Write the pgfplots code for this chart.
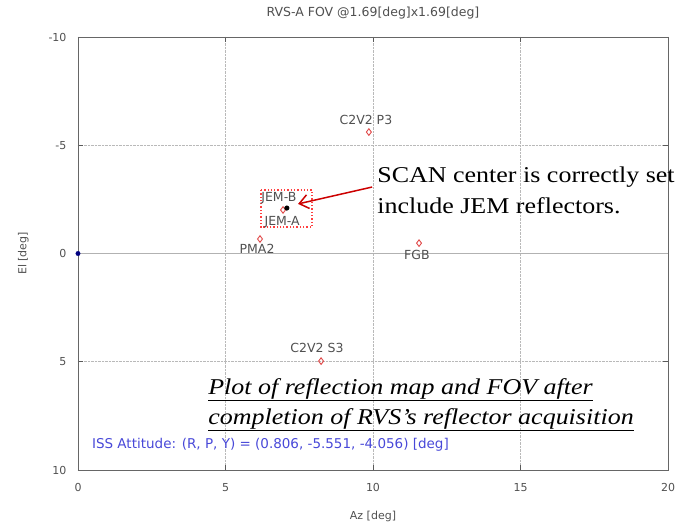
\documentclass[border=0pt]{standalone}
\usepackage{pgfplots}
\pgfplotsset{compat=1.18}
\usepackage{fontspec}
\setmainfont{Liberation Serif}
\newfontfamily\annot[FakeStretch=1.15]{Liberation Serif}
\newfontfamily\tickfont{DejaVu Sans}
\usetikzlibrary{arrows.meta}
\definecolor{ptred}{HTML}{E04848}
\definecolor{txtgray}{HTML}{505050}
\definecolor{issblue}{HTML}{4848D8}
\begin{document}
\begin{tikzpicture}[x=1pt,y=1pt]
\useasboundingbox (-78,-56) rectangle (597,470);
\begin{axis}[
  at={(0,0)}, anchor=south west,
  width=590pt, height=433pt, scale only axis,
  xmin=0, xmax=20, ymin=-10, ymax=10, y dir=reverse,
  xtick={0,5,10,15,20}, ytick={-10,-5,0,5,10},
  grid=major,
  major grid style={gray!55, densely dotted, line width=0.8pt},
  axis line style={gray!80!black, line width=0.8pt},
  tick style={gray!70!black, line width=0.8pt},
  tick align=inside,
  major tick length=5pt,
  ticklabel style={font=\tickfont\fontsize{11}{13}\selectfont, text=txtgray},
  xticklabel style={yshift=-10pt},
  yticklabel style={xshift=-8pt},
  /pgf/number format/assume math mode=true,
  xlabel={Az [deg]}, ylabel={El [deg]},
  label style={font=\tickfont\fontsize{11}{13}\selectfont, text=txtgray},
  xlabel style={yshift=-12pt},
  ylabel style={yshift=13pt},
  title={RVS-A FOV @1.69[deg]x1.69[deg]},
  title style={font=\tickfont\fontsize{12.5}{14}\selectfont, text=txtgray, yshift=8pt},
  clip=false,
]
% zero line
\addplot[gray!60, line width=1pt] coordinates {(0,0) (20,0)};
% FOV rectangle
\addplot[red!75, dotted, line width=1.3pt] coordinates {(6.2,-2.93) (7.93,-2.93) (7.93,-1.22) (6.2,-1.22) (6.2,-2.93)};
% reflectors
\addplot[only marks, mark=diamond, mark size=3.3pt, ptred, line width=0.9pt] coordinates {
 (9.86,-5.61) (6.17,-0.67) (11.56,-0.48) (8.24,4.97) (6.95,-2.01)};
% scan center
\addplot[only marks, mark=*, mark size=2.3pt, black] coordinates {(7.08,-2.1)};
% origin
\addplot[only marks, mark=*, mark size=2.2pt, blue!50!black] coordinates {(0,0)};
% labels
\begin{scope}[every node/.style={font=\tickfont\fontsize{12.5}{14}\selectfont, text=txtgray, inner sep=0pt}]
\node at (axis cs:9.76,-6.17) {C2V2 P3};
\node at (axis cs:6.81,-2.56) {JEM-B};
\node at (axis cs:6.92,-1.45) {JEM-A};
\node at (axis cs:6.07,-0.21) {PMA2};
\node at (axis cs:11.49,0.07) {FGB};
\node at (axis cs:8.10,4.37) {C2V2 S3};
\end{scope}
\node[anchor=west, inner sep=0pt, font=\tickfont\fontsize{13.5}{15}\selectfont, text=issblue] at (axis cs:0.47,8.85) {ISS Attitude: (R, P, Y) = (0.806, -5.551, -4.056) [deg]};
% annotations
\node[anchor=base west, inner sep=0pt, font=\annot\fontsize{22.6}{26}\selectfont] at (axis cs:10.14,-3.26) {SCAN center is correctly set};
\node[anchor=base west, inner sep=0pt, font=\annot\fontsize{22.6}{26}\selectfont] at (axis cs:10.14,-1.87) {include JEM reflectors.};
\draw[red!80!black, line width=1.5pt, -{Straight Barb[length=9pt, width=14pt]}] (axis cs:9.97,-3.07) -- (axis cs:7.46,-2.29);
\node[anchor=base west, inner sep=0pt, font=\annot\fontsize{22.6}{26}\selectfont\itshape] at (axis cs:4.41,6.49) {\underline{Plot of reflection map and FOV after}};
\node[anchor=base west, inner sep=0pt, font=\annot\fontsize{22.6}{26}\selectfont\itshape] at (axis cs:4.41,7.88) {\underline{completion of RVS’s reflector acquisition}};
\end{axis}
\end{tikzpicture}
\end{document}
